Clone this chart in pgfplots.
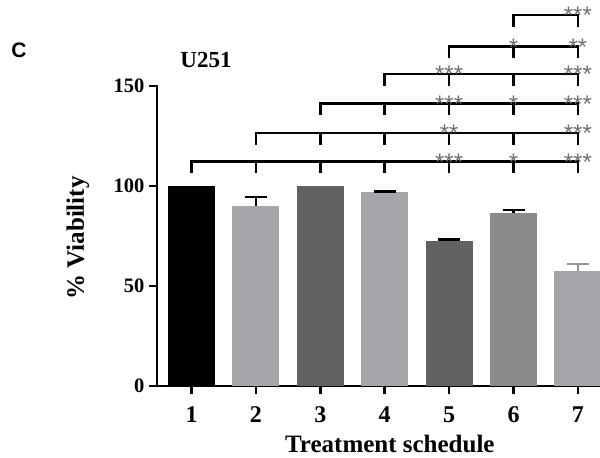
\documentclass[border=0pt]{standalone}
\usepackage{fontspec}
\setmainfont{Liberation Serif}
\newfontfamily\sansf{Liberation Sans}
\usepackage{pgfplots}
\pgfplotsset{compat=1.18}
\definecolor{lg}{HTML}{A6A6AA}
\definecolor{dg}{HTML}{626262}
\definecolor{mg}{HTML}{8A8A8A}
\definecolor{stargray}{HTML}{707070}
\begin{document}
\begin{tikzpicture}
\path[use as bounding box] (0,0) rectangle (600pt,458pt);
\clip (0,0) rectangle (600pt,458pt);
\node[font=\sansf\bfseries\fontsize{21}{21}\selectfont] at (19pt,407.5pt) {C};
\tikzset{br/.style={line width=2.5pt, black, line join=miter},
  st/.style={font=\sansf\fontsize{24}{24}\selectfont, text=stargray, anchor=base, inner sep=0pt}}
\begin{axis}[
  at={(157pt,72pt)}, anchor=south west,
  scale only axis, width=453.1pt, height=300pt,
  xmin=0.464, xmax=7.5, ymin=0, ymax=150,
  axis lines*=left,
  axis line style={line width=2.5pt, line cap=rect},
  tick style={line width=2.5pt, black},
  tick align=outside, major tick length=8pt,
  xtick={1,2,3,4,5,6,7}, ytick={0,50,100,150},
  /pgf/number format/assume math mode=true,
  yticklabel style={font=\bfseries\fontsize{20.5}{20.5}\selectfont, xshift=-1pt},
  xticklabel style={font=\bfseries\fontsize{24}{24}\selectfont, yshift=-9pt},
  xlabel={Treatment schedule}, ylabel={\% Viability},
  label style={font=\bfseries\fontsize{25}{25}\selectfont},
  xlabel style={at={(axis cs:4.08,-29)}, anchor=center},
  ylabel style={at={(axis cs:-0.763,74)}, anchor=center},
  title={U251},
  title style={at={(axis cs:1.225,160)}, anchor=center, font=\bfseries\fontsize{23}{23}\selectfont},
  clip=false,
]
\addplot[ybar, bar width=47pt, fill=black, draw=none] coordinates {(1,100)};
\addplot[ybar, bar width=47pt, fill=lg, draw=none,
  error bars/.cd, y dir=plus, y explicit, error mark=|,
  error bar style={line width=2.5pt, black},
  error mark options={mark size=11pt, line width=2.5pt, black}]
  coordinates {(2,90) +- (0,4.5)};
\addplot[ybar, bar width=47pt, fill=dg, draw=none] coordinates {(3,100)};
\addplot[ybar, bar width=47pt, fill=lg, draw=none,
  error bars/.cd, y dir=plus, y explicit, error mark=|,
  error bar style={line width=2.5pt, black},
  error mark options={mark size=11pt, line width=2.5pt, black}]
  coordinates {(4,97) +- (0,0.3)};
\addplot[ybar, bar width=47pt, fill=dg, draw=none,
  error bars/.cd, y dir=plus, y explicit, error mark=|,
  error bar style={line width=2.5pt, black},
  error mark options={mark size=11pt, line width=2.5pt, black}]
  coordinates {(5,72.5) +- (0,0.7)};
\addplot[ybar, bar width=47pt, fill=mg, draw=none,
  error bars/.cd, y dir=plus, y explicit, error mark=|,
  error bar style={line width=2.5pt, black},
  error mark options={mark size=11pt, line width=2.5pt, black}]
  coordinates {(6,86.5) +- (0,1.5)};
\addplot[ybar, bar width=47pt, fill=lg, draw=none,
  error bars/.cd, y dir=plus, y explicit, error mark=|,
  error bar style={line width=2.5pt, lg!90!black},
  error mark options={mark size=11pt, line width=2.5pt, lg!90!black}]
  coordinates {(7,57.5) +- (0,3.5)};
% row 1
\draw[br] (axis cs:1,106.4) -- (axis cs:1,112.2) -- (axis cs:7,112.2) -- (axis cs:7,106.4);
\draw[br] (axis cs:2,106.4) -- (axis cs:2,112.2);
\draw[br] (axis cs:3,106.4) -- (axis cs:3,112.2);
\draw[br] (axis cs:4,106.4) -- (axis cs:4,112.2);
\draw[br] (axis cs:5,106.4) -- (axis cs:5,112.2);
\draw[br] (axis cs:6,106.4) -- (axis cs:6,112.2);
\node[st] at (axis cs:5,107.7) {***};
\node[st] at (axis cs:6,107.7) {*};
\node[st] at (axis cs:7,107.7) {***};
% row 2
\draw[br] (axis cs:2,120.7) -- (axis cs:2,126.5) -- (axis cs:7,126.5) -- (axis cs:7,120.7);
\draw[br] (axis cs:3,120.7) -- (axis cs:3,126.5);
\draw[br] (axis cs:4,120.7) -- (axis cs:4,126.5);
\draw[br] (axis cs:5,120.7) -- (axis cs:5,126.5);
\draw[br] (axis cs:6,120.7) -- (axis cs:6,126.5);
\node[st] at (axis cs:5,122) {**};
\node[st] at (axis cs:7,122) {***};
% row 3
\draw[br] (axis cs:3,135.5) -- (axis cs:3,141.3) -- (axis cs:7,141.3) -- (axis cs:7,135.5);
\draw[br] (axis cs:4,135.5) -- (axis cs:4,141.3);
\draw[br] (axis cs:5,135.5) -- (axis cs:5,141.3);
\draw[br] (axis cs:6,135.5) -- (axis cs:6,141.3);
\node[st] at (axis cs:5,136.8) {***};
\node[st] at (axis cs:6,136.8) {*};
\node[st] at (axis cs:7,136.8) {***};
% row 4
\draw[br] (axis cs:4,150.2) -- (axis cs:4,156) -- (axis cs:7,156) -- (axis cs:7,150.2);
\draw[br] (axis cs:5,150.2) -- (axis cs:5,156);
\draw[br] (axis cs:6,150.2) -- (axis cs:6,156);
\node[st] at (axis cs:5,151.5) {***};
\node[st] at (axis cs:7,151.5) {***};
% row 5
\draw[br] (axis cs:5,163.9) -- (axis cs:5,169.7) -- (axis cs:7,169.7) -- (axis cs:7,163.9);
\draw[br] (axis cs:6,163.9) -- (axis cs:6,169.7);
\node[st] at (axis cs:6,165.2) {*};
\node[st] at (axis cs:7,165.2) {**};
% row 6
\draw[br] (axis cs:6,179.7) -- (axis cs:6,185.5) -- (axis cs:7,185.5) -- (axis cs:7,179.7);
\node[st] at (axis cs:7,181) {***};
\end{axis}
\end{tikzpicture}
\end{document}
